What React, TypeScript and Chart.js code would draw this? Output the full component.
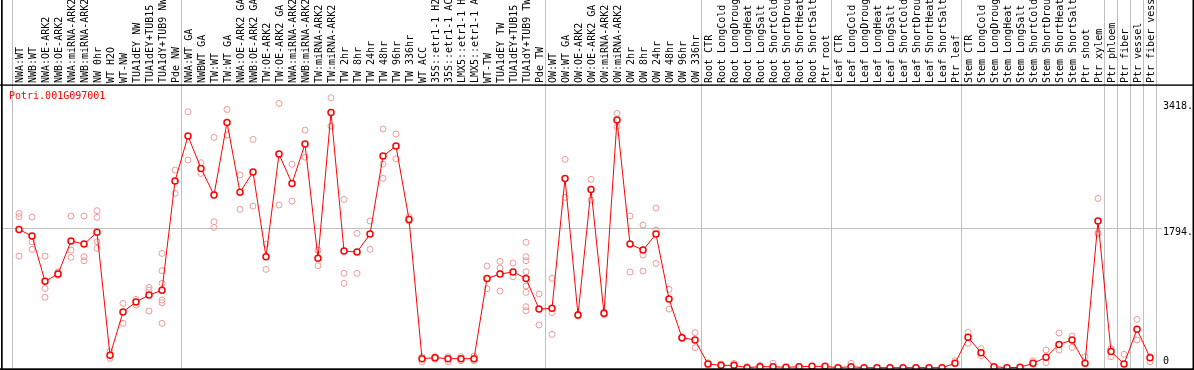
import React, { useEffect, useRef } from 'react';
import { Chart, registerables } from 'chart.js';

Chart.register(...registerables);

const chartTitle = 'Potri.001G097001';

const categories = [
  'NWA:WT', 'NWB:WT', 'NWA:OE-ARK2', 'NWB:OE-ARK2', 'NWA:miRNA-ARK2', 'NWB:miRNA-ARK2', 'NW 0hr', 'WT H2O', 'WT-NW',
  'TUA1dEY NW', 'TUA1dEY+TUB15 NW', 'TUA1dY+TUB9 NW', 'Pde NW',
  'NWA:WT GA', 'NWBWT GA', 'TW:WT', 'TW:WT GA', 'NWA:OE-ARK2 GA', 'NWB:OE-ARK2 GA', 'TW:OE-ARK2', 'TW:OE-ARK2 GA',
  'NWA:miRNA-ARK2 GA', 'NWB:miRNA-ARK2 GA', 'TW:miRNA-ARK2', 'TW:miRNA-ARK2 GA',
  'TW 2hr', 'TW 8hr', 'TW 24hr', 'TW 48hr', 'TW 96hr', 'TW 336hr', 'WT ACC',
  '35S::etr1-1 H2O', '35S::etr1-1 ACC', 'LMX5::etr1-1 H2O', 'LMX5::etr1-1 ACC', 'WT-TW',
  'TUA1dEY TW', 'TUA1dEY+TUB15 TW', 'TUA1dY+TUB9 TW', 'Pde TW',
  'OW:WT', 'OW:WT GA', 'OW:OE-ARK2', 'OW:OE-ARK2 GA', 'OW:miRNA-ARK2', 'OW:miRNA-ARK2 GA',
  'OW 2hr', 'OW 8hr', 'OW 24hr', 'OW 48hr', 'OW 96hr', 'OW 336hr',
  'Root CTR', 'Root LongCold', 'Root LongDrought', 'Root LongHeat', 'Root LongSalt', 'Root ShortCold',
  'Root ShortDrought', 'Root ShortHeat', 'Root ShortSalt', 'Ptr root',
  'Leaf CTR', 'Leaf LongCold', 'Leaf LongDrought', 'Leaf LongHeat', 'Leaf LongSalt', 'Leaf ShortCold',
  'Leaf ShortDrought', 'Leaf ShortHeat', 'Leaf ShortSalt', 'Ptr leaf',
  'Stem CTR', 'Stem LongCold', 'Stem LongDrought', 'Stem LongHeat', 'Stem LongSalt', 'Stem ShortCold',
  'Stem ShortDrought', 'Stem ShortHeat', 'Stem ShortSalt', 'Ptr shoot', 'Ptr xylem',
  'Ptr phloem', 'Ptr fiber', 'Ptr vessel', 'Ptr fiber vessel',
];

const meanValues = [
  1781, 1695, 1112, 1206, 1631, 1592, 1743, 159, 717, 846, 936, 996, 2404,
  2983, 2567, 2223, 3159, 2258, 2520, 1429, 2751, 2373, 2880, 1408, 3288, 1502, 1489, 1721, 2725, 2854,
  1910, 116, 129, 116, 116, 116, 1150, 1206, 1232, 1150, 755,
  764, 2438, 678, 2296, 700, 3189, 1592, 1515, 1721, 884, 386, 356,
  47, 30, 30, 0, 13, 13, 4, 13, 17, 17,
  0, 13, 0, 0, 0, 0, 0, 0, 0, 56,
  391, 193, 13, 0, 4, 56, 133, 300, 356, 56, 1888,
  210, 47, 494, 129,
];

const replicateValues = [
  [1987, 1944, 1438], [1940, 1622, 1524], [1438, 1021, 906], [1236, 1189, 1223], [1953, 1515, 1421],
  [1953, 1429, 1378], [2022, 1936, 1622, 1537], [206, 120], [828, 571], [880, 807],
  [1034, 1000, 730], [1472, 1249, 1086, 871, 837, 571], [2545, 2245],
  [3296, 2675], [2640, 2502], [2966, 1880, 1807], [3326, 2996], [2481, 2039],
  [2940, 2082], [1592, 1266], [3404, 2095], [2621, 2146], [3060, 2712],
  [1515, 1313], [3477, 3112], [2167, 1215, 1086], [1730, 1215], [1888, 1524],
  [3074, 2621, 2438], [3009, 2691], [1944, 1888], [77, 142], [142, 107],
  [142, 77], [142, 90], [150, 90], [1309, 1017], [1369, 1283, 987], [1348, 1172],
  [1614, 1429, 1378, 1236, 1052, 970, 785, 734], [949, 549],
  [1150, 708, 429], [2683, 2193], [691, 665], [2425, 2159], [717, 682], [3275, 3103],
  [1953, 1232], [1837, 1451, 1245], [2056, 1773, 1343], [1009, 755], [399, 373], [451, 258],
  [64, 30], [47, 21], [56, 13], [13], [30], [56], [], [], [], [],
  [], [56], [], [], [], [], [], [], [], [90],
  [455, 313], [245, 155], [], [], [], [90, 43], [227, 64], [446, 227], [408, 262], [142], [2180, 1738, 1721],
  [245, 142], [172], [622, 356], [142, 77],
];

const groupStarts = [0, 13, 41, 53, 63, 73, 84, 85, 86, 87, 88];

const yTickValues = [0, 1794, 3418];
const yTickLabels = ['0', '1794.', '3418.'];
const yMin = -17;
const yMax = 3641;

const FONT = '"DejaVu Sans Mono", monospace';
const MEAN_COLOR = '#ff0000';
const REP_COLOR = '#f09999';
const GRID_COLOR = '#c0c0c0';

const decorPlugin = {
  id: 'decor',
  beforeDatasetsDraw(chart: any) {
    const { ctx, chartArea } = chart;
    const xs = chart.scales.x;
    const ys = chart.scales.y;
    ctx.save();
    ctx.strokeStyle = GRID_COLOR;
    ctx.lineWidth = 1;
    const gy = Math.round(ys.getPixelForValue(yTickValues[1])) + 0.5;
    ctx.beginPath();
    ctx.moveTo(2, gy);
    ctx.lineTo(chartArea.right + 12, gy);
    ctx.stroke();
    const step = xs.getPixelForValue(1) - xs.getPixelForValue(0);
    const x0 = xs.getPixelForValue(0);
    groupStarts.forEach((i) => {
      const px = Math.round(x0 + (i - 0.5) * step - 1) + 0.5;
      ctx.beginPath();
      ctx.moveTo(px, 0);
      ctx.lineTo(px, chartArea.bottom);
      ctx.stroke();
    });
    ctx.fillStyle = MEAN_COLOR;
    ctx.font = `10px ${FONT}`;
    ctx.textBaseline = 'middle';
    ctx.textAlign = 'left';
    ctx.fillText(chartTitle, 9, 96);
    ctx.restore();
  },
  afterDraw(chart: any) {
    const { ctx, width, height } = chart;
    ctx.save();
    ctx.fillStyle = '#000000';
    ctx.fillRect(1, 0, 1.7, height);
    ctx.fillRect(width - 1.5, 0, 1.5, height);
    ctx.fillRect(0, height - 1.7, width, 1.7);
    ctx.fillRect(0, 84.4, width, 1.4);
    ctx.restore();
  },
};

export default function App() {
  const canvasRef = useRef<HTMLCanvasElement | null>(null);

  useEffect(() => {
    if (!canvasRef.current) return;
    const maxReps = Math.max(...replicateValues.map((r) => r.length));
    const repDatasets = [];
    for (let k = 0; k < maxReps; k++) {
      repDatasets.push({
        label: `rep${k + 1}`,
        data: replicateValues.map((r) => (r[k] === undefined ? null : r[k])),
        showLine: false,
        pointRadius: 3,
        pointBorderWidth: 1,
        pointBorderColor: REP_COLOR,
        pointBackgroundColor: 'rgba(0,0,0,0)',
        borderColor: REP_COLOR,
        clip: false,
      });
    }
    const chart = new Chart(canvasRef.current, {
      type: 'line',
      data: {
        labels: categories,
        datasets: [
          {
            label: chartTitle,
            data: meanValues,
            borderColor: MEAN_COLOR,
            borderWidth: 1,
            pointRadius: 3,
            pointBorderWidth: 1.5,
            pointBorderColor: MEAN_COLOR,
            pointBackgroundColor: '#ffffff',
            tension: 0,
            clip: false,
          },
          ...repDatasets,
        ] as any,
      },
      options: {
        animation: false,
        responsive: true,
        maintainAspectRatio: false,
        layout: { autoPadding: false, padding: { left: 19, right: 0, top: 0, bottom: 1 } },
        plugins: {
          legend: { display: false },
          tooltip: { enabled: false },
          title: { display: false },
        },
        scales: {
          x: {
            type: 'category',
            position: 'top',
            offset: false,
            grid: { display: false, drawTicks: false },
            border: { display: false },
            ticks: {
              autoSkip: false,
              minRotation: 90,
              maxRotation: 90,
              padding: 2,
              labelOffset: 13,
              color: '#000000',
              font: { family: FONT, size: 10 },
            },
            afterFit: (s: any) => {
              s.height = 85;
              s.paddingLeft = 0;
              s.paddingRight = 0;
            },
          },
          y: {
            type: 'linear',
            position: 'right',
            min: yMin,
            max: yMax,
            grid: { display: false, drawTicks: false },
            border: { display: false },
            afterBuildTicks: (s: any) => {
              s.ticks = yTickValues.map((v) => ({ value: v }));
            },
            ticks: {
              padding: 13,
              labelOffset: 4,
              color: '#000000',
              font: (ctx: any) => ({ family: FONT, size: 10, lineHeight: ctx.index === 0 ? 2 : 1.2 }),
              callback: (_v: any, i: number) => (i === 0 ? [yTickLabels[0], ''] : yTickLabels[i]),
            },
            afterFit: (s: any) => {
              s.width = 44;
              s.paddingTop = 0;
              s.paddingBottom = 0;
            },
          },
        },
      } as any,
      plugins: [decorPlugin],
    });
    return () => chart.destroy();
  }, []);

  return (
    <div style={{ position: 'absolute', left: 0, top: 0, width: 1194, height: 370, background: '#ffffff' }}>
      <canvas ref={canvasRef} />
    </div>
  );
}
